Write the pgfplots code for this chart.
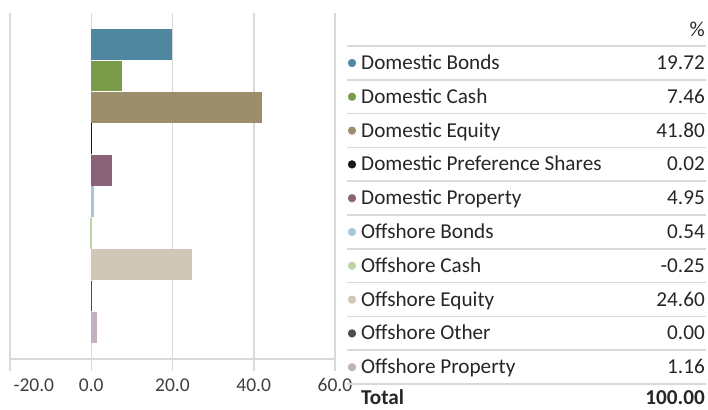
\documentclass[border=0pt]{standalone}
\usepackage{pgfplots}
\pgfplotsset{compat=1.18}
\usepackage{fontspec}
\setmainfont{Carlito}
\definecolor{c1}{HTML}{4F87A0}
\definecolor{c2}{HTML}{7A9C4A}
\definecolor{c3}{HTML}{9C8D6B}
\definecolor{c4}{HTML}{1A1A1A}
\definecolor{c5}{HTML}{8A6378}
\definecolor{c6}{HTML}{A8C5D5}
\definecolor{c7}{HTML}{BCD5A5}
\definecolor{c8}{HTML}{D0C7B6}
\definecolor{c9}{HTML}{4B4C52}
\definecolor{c10}{HTML}{C3B1BF}
\definecolor{gridc}{HTML}{D9D9D9}
\definecolor{txt}{HTML}{262626}
\definecolor{lbl}{HTML}{404040}
\newcommand{\tf}{\fontsize{21.2}{24}\selectfont}
\newcommand{\kf}{\fontsize{19.5}{22}\selectfont}
\begin{document}
\begin{tikzpicture}
\useasboundingbox (0,0) rectangle (708pt,409pt);
\begin{axis}[
  at={(10pt,50pt)}, anchor=south west,
  width=325pt, height=346pt, scale only axis,
  xmin=-20, xmax=60, ymin=-1, ymax=10,
  axis y line=none, axis x line=bottom,
  x axis line style={-, draw=gridc, line width=1.5pt},
  xtick={0,20,40,60}, xticklabels={0.0,20.0,40.0,60.0},
  extra x ticks={-20}, extra x tick labels={-20.0},
  extra x tick style={grid=major, xticklabel style={anchor=north west, xshift=0pt}},
  xmajorgrids, grid style={draw=gridc, line width=1.5pt},
  tick align=outside, major tick length=12pt,
  tick style={draw=gridc, line width=1.5pt},
  xticklabel style={font=\kf, text=lbl, yshift=-4pt},
  every axis plot/.append style={xbar, bar width=0.95, bar shift=0pt, line width=0.8pt},
]
\addplot[fill=c1, draw=c1] coordinates {(19.72,9)};
\addplot[fill=c2, draw=c2] coordinates {(7.46,8)};
\addplot[fill=c3, draw=c3] coordinates {(41.80,7)};
\addplot[fill=c4, draw=c4, line width=1.2pt] coordinates {(0.02,6)};
\addplot[fill=c5, draw=c5] coordinates {(4.95,5)};
\addplot[fill=c6, draw=c6] coordinates {(0.54,4)};
\addplot[fill=c7, draw=c7] coordinates {(-0.25,3)};
\addplot[fill=c8, draw=c8] coordinates {(24.60,2)};
\addplot[fill=c9, draw=c9] coordinates {(0.00,1)};
\addplot[fill=c10, draw=c10] coordinates {(1.16,0)};
\end{axis}
\begin{axis}[
  at={(0pt,0pt)}, anchor=south west,
  width=708pt, height=409pt, scale only axis,
  hide axis, clip=false,
  xmin=0, xmax=708, ymin=0, ymax=409, y dir=reverse,
  every axis plot/.append style={only marks, mark=*, mark size=3.9pt},
]
\foreach \yy in {46,79.8,113.6,147.4,181.2,215,248.8,282.6,316.4,350.2,384}{
  \edef\tmp{\noexpand\draw[gridc, line width=1.5pt] (axis cs:347,\yy) -- (axis cs:706,\yy);}\tmp
}
\addplot[c1] coordinates {(352,63)};
\addplot[c2] coordinates {(352,96.8)};
\addplot[c3] coordinates {(352,130.6)};
\addplot[c4] coordinates {(352,164.4)};
\addplot[c5] coordinates {(352,198.2)};
\addplot[c6] coordinates {(352,232)};
\addplot[c7] coordinates {(352,265.8)};
\addplot[c8] coordinates {(352,299.6)};
\addplot[c9] coordinates {(352,333.4)};
\addplot[c10] coordinates {(352,367.2)};
\node[anchor=base east, font=\tf, text=txt, inner sep=0pt] at (axis cs:705,36.5) {\%};
\node[anchor=base west, font=\tf, text=txt, inner sep=0pt] at (axis cs:361,69.5) {Domestic Bonds};
\node[anchor=base west, font=\tf, text=txt, inner sep=0pt] at (axis cs:361,103.3) {Domestic Cash};
\node[anchor=base west, font=\tf, text=txt, inner sep=0pt] at (axis cs:361,137.1) {Domestic Equity};
\node[anchor=base west, font=\tf, text=txt, inner sep=0pt] at (axis cs:361,170.9) {Domestic Preference Shares};
\node[anchor=base west, font=\tf, text=txt, inner sep=0pt] at (axis cs:361,204.7) {Domestic Property};
\node[anchor=base west, font=\tf, text=txt, inner sep=0pt] at (axis cs:361,238.5) {Offshore Bonds};
\node[anchor=base west, font=\tf, text=txt, inner sep=0pt] at (axis cs:361,272.3) {Offshore Cash};
\node[anchor=base west, font=\tf, text=txt, inner sep=0pt] at (axis cs:361,306.1) {Offshore Equity};
\node[anchor=base west, font=\tf, text=txt, inner sep=0pt] at (axis cs:361,339.9) {Offshore Other};
\node[anchor=base west, font=\tf, text=txt, inner sep=0pt] at (axis cs:361,373.7) {Offshore Property};
\node[anchor=base west, font=\tf\bfseries, text=txt, inner sep=0pt] at (axis cs:361,404.5) {Total};
\node[anchor=base east, font=\tf, text=txt, inner sep=0pt] at (axis cs:705,69.5) {19.72};
\node[anchor=base east, font=\tf, text=txt, inner sep=0pt] at (axis cs:705,103.3) {7.46};
\node[anchor=base east, font=\tf, text=txt, inner sep=0pt] at (axis cs:705,137.1) {41.80};
\node[anchor=base east, font=\tf, text=txt, inner sep=0pt] at (axis cs:705,170.9) {0.02};
\node[anchor=base east, font=\tf, text=txt, inner sep=0pt] at (axis cs:705,204.7) {4.95};
\node[anchor=base east, font=\tf, text=txt, inner sep=0pt] at (axis cs:705,238.5) {0.54};
\node[anchor=base east, font=\tf, text=txt, inner sep=0pt] at (axis cs:705,272.3) {-0.25};
\node[anchor=base east, font=\tf, text=txt, inner sep=0pt] at (axis cs:705,306.1) {24.60};
\node[anchor=base east, font=\tf, text=txt, inner sep=0pt] at (axis cs:705,339.9) {0.00};
\node[anchor=base east, font=\tf, text=txt, inner sep=0pt] at (axis cs:705,373.7) {1.16};
\node[anchor=base east, font=\tf\bfseries, text=txt, inner sep=0pt] at (axis cs:705,404.5) {100.00};
\end{axis}
\end{tikzpicture}
\end{document}
